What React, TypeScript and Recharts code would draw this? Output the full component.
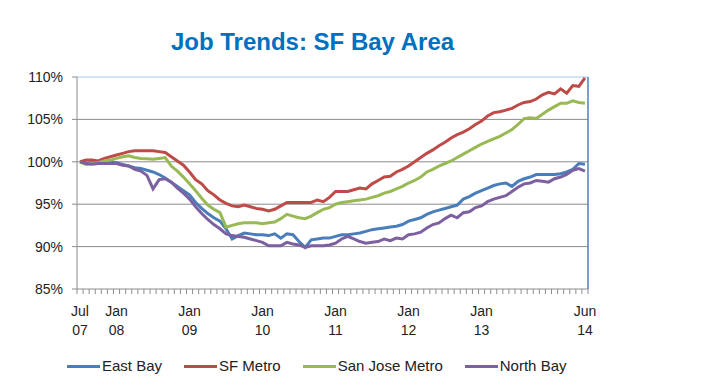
import { LineChart, Line, XAxis, YAxis, CartesianGrid, ReferenceLine } from "recharts";

// monthly index, Jul 2007 = 100 (Jul 07 .. Jun 14)
const eastBay = [
  100.0, 99.8, 99.9, 99.9, 100.0, 100.0, 99.9, 99.7, 99.5, 99.3, 99.2, 99.0,
  98.8, 98.5, 98.1, 97.6, 97.1, 96.6, 96.1, 95.2, 94.5, 93.9, 93.4, 93.0,
  92.1, 90.9, 91.3, 91.6, 91.5, 91.4, 91.4, 91.3, 91.5, 91.0, 91.5, 91.4,
  90.6, 89.9, 90.8, 90.9, 91.0, 91.0, 91.2, 91.4, 91.4, 91.5, 91.6, 91.8,
  92.0, 92.1, 92.2, 92.3, 92.4, 92.6, 93.0, 93.2, 93.4, 93.8, 94.1, 94.3,
  94.5, 94.7, 94.9, 95.6, 95.9, 96.3, 96.6, 96.9, 97.2, 97.4, 97.5, 97.1,
  97.7, 98.0, 98.2, 98.5, 98.5, 98.5, 98.5, 98.6, 98.8, 99.1, 99.8, 99.7,
];
const sfMetro = [
  100.0, 100.2, 100.2, 100.1, 100.4, 100.6, 100.8, 101.0, 101.2, 101.3, 101.3, 101.3,
  101.3, 101.2, 101.1, 100.6, 100.1, 99.6, 98.8, 97.9, 97.4, 96.6, 96.1, 95.5,
  95.1, 94.8, 94.7, 94.9, 94.7, 94.5, 94.4, 94.2, 94.4, 94.8, 95.2, 95.2,
  95.2, 95.2, 95.2, 95.5, 95.3, 95.8, 96.5, 96.5, 96.5, 96.7, 96.9, 96.8,
  97.4, 97.8, 98.2, 98.3, 98.8, 99.1, 99.5, 100.0, 100.5, 101.0, 101.4, 101.9,
  102.3, 102.8, 103.2, 103.5, 103.9, 104.4, 104.8, 105.4, 105.8, 105.9, 106.1, 106.3,
  106.7, 107.0, 107.1, 107.4, 107.9, 108.2, 108.0, 108.6, 108.1, 109.0, 108.9, 109.9,
];
const sanJose = [
  100.0, 99.7, 99.8, 99.9, 100.1, 100.2, 100.4, 100.6, 100.7, 100.5, 100.4, 100.35,
  100.3, 100.4, 100.5, 99.5, 98.9, 98.2, 97.4, 96.6, 95.7, 94.9, 94.4, 94.0,
  92.3, 92.5, 92.7, 92.8, 92.8, 92.8, 92.7, 92.8, 92.9, 93.3, 93.8, 93.6,
  93.4, 93.3, 93.6, 94.0, 94.4, 94.6, 95.0, 95.2, 95.3, 95.4, 95.5, 95.6,
  95.8, 96.0, 96.3, 96.5, 96.8, 97.1, 97.5, 97.8, 98.2, 98.8, 99.1, 99.5,
  99.8, 100.1, 100.5, 100.9, 101.3, 101.7, 102.1, 102.4, 102.7, 103.0, 103.4, 103.8,
  104.4, 105.1, 105.2, 105.1, 105.6, 106.1, 106.5, 106.9, 106.9, 107.2, 107.0, 106.9,
];
const northBay = [
  100.0, 99.8, 99.7, 99.8, 99.8, 99.8, 99.8, 99.6, 99.5, 99.1, 98.9, 98.4,
  96.8, 97.9, 98.0, 97.6, 96.9, 96.3, 95.6, 94.7, 93.9, 93.2, 92.6, 92.1,
  91.5, 91.3, 91.2, 91.1, 90.9, 90.7, 90.5, 90.1, 90.1, 90.1, 90.5, 90.3,
  90.2, 89.9, 90.1, 90.1, 90.1, 90.2, 90.4, 90.9, 91.2, 90.9, 90.6, 90.4,
  90.5, 90.6, 90.9, 90.7, 91.0, 90.9, 91.4, 91.5, 91.7, 92.2, 92.6, 92.8,
  93.3, 93.7, 93.4, 94.0, 94.1, 94.6, 94.8, 95.3, 95.6, 95.8, 96.0, 96.5,
  97.0, 97.4, 97.5, 97.8, 97.7, 97.6, 98.0, 98.2, 98.5, 99.0, 99.2, 98.9,
];

// month index -> two-line label
const tickLabels = [
  { i: 0, m: "Jul", y: "07" },
  { i: 6, m: "Jan", y: "08" },
  { i: 18, m: "Jan", y: "09" },
  { i: 30, m: "Jan", y: "10" },
  { i: 42, m: "Jan", y: "11" },
  { i: 54, m: "Jan", y: "12" },
  { i: 66, m: "Jan", y: "13" },
  { i: 83, m: "Jun", y: "14" },
];
const yTicks = [85, 90, 95, 100, 105, 110];

const series = [
  { key: "eastBay", name: "East Bay", color: "#4a7ebb" },
  { key: "sfMetro", name: "SF Metro", color: "#be4b48" },
  { key: "sanJose", name: "San Jose Metro", color: "#98b954" },
  { key: "northBay", name: "North Bay", color: "#7d60a0" },
];

const data = eastBay.map((v, i) => ({
  i,
  eastBay: v,
  sfMetro: sfMetro[i],
  sanJose: sanJose[i],
  northBay: northBay[i],
}));

const N = data.length;
// tick marks sit on the category boundaries, as in Excel
const boundaries = Array.from({ length: N + 1 }, (_, k) => k - 0.5);

const W = 710;
const H = 387;
const M = { top: 77, right: 122, bottom: 38, left: 0 };
const Y_W = 77;
const X_H = 60;
const halfBand = (W - M.left - M.right - Y_W) / N / 2;

const FONT = "'Liberation Sans', Arial, sans-serif";

const MonthTick = (props: any) => {
  const { x, y, payload } = props;
  const lab = tickLabels.find((t) => t.i === payload.value + 0.5);
  if (!lab) return <g />;
  return (
    <text
      x={x + halfBand}
      y={y}
      textAnchor="middle"
      fontFamily={FONT}
      fontSize={14}
      fill="#222"
    >
      <tspan x={x + halfBand} dy={20}>
        {lab.m}
      </tspan>
      <tspan x={x + halfBand} dy={18.5}>
        {lab.y}
      </tspan>
    </text>
  );
};

export default function App() {
  return (
    <div
      style={{
        position: "absolute",
        left: 0,
        top: 0,
        width: W,
        height: H,
        background: "#fff",
        fontFamily: FONT,
      }}
    >
      <div
        style={{
          position: "absolute",
          left: 0,
          width: 625,
          top: 27,
          textAlign: "center",
          fontSize: 24,
          fontWeight: "bold",
          color: "#0070c0",
          lineHeight: "30px",
        }}
      >
        Job Trends: SF Bay Area
      </div>

      <LineChart width={W} height={H} data={data} margin={M}>
        <CartesianGrid
          vertical={false}
          stroke="#8c8c8c"
          horizontalValues={[90, 95, 100, 105]}
        />
        <XAxis
          dataKey="i"
          type="number"
          domain={[-0.5, N - 0.5]}
          ticks={boundaries}
          interval={0}
          height={X_H}
          stroke="#8c8c8c"
          tickSize={5}
          tickMargin={2}
          tick={<MonthTick />}
        />
        <YAxis
          domain={[85, 110]}
          ticks={yTicks}
          width={Y_W}
          stroke="#8c8c8c"
          tickSize={5}
          tickMargin={9}
          tickFormatter={(v) => `${v}%`}
          tick={{ fill: "#222", fontSize: 14, fontFamily: FONT }}
        />
        <ReferenceLine y={110} stroke="#c6d9f0" strokeWidth={1.5} />
        <ReferenceLine x={N - 0.5} stroke="#4f81bd" strokeWidth={1.5} />
        {series.map((s) => (
          <Line
            key={s.key}
            dataKey={s.key}
            name={s.name}
            type="linear"
            stroke={s.color}
            strokeWidth={3}
            dot={false}
            isAnimationActive={false}
          />
        ))}
      </LineChart>

      <div
        style={{
          position: "absolute",
          left: 67,
          top: 355,
          display: "flex",
          alignItems: "center",
          gap: 22,
          fontSize: 15,
          color: "#222",
          lineHeight: "22px",
        }}
      >
        {series.map((s) => (
          <div key={s.key} style={{ display: "flex", alignItems: "center" }}>
            <span
              style={{
                display: "inline-block",
                width: 33,
                height: 3,
                background: s.color,
                marginRight: 2,
              }}
            />
            <span>{s.name}</span>
          </div>
        ))}
      </div>
    </div>
  );
}
